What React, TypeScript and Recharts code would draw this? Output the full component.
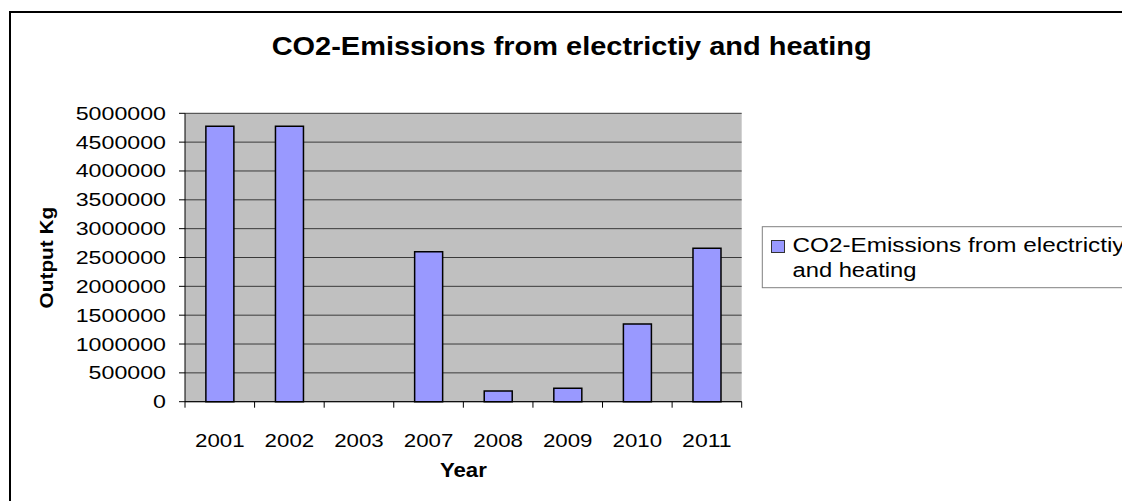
import React from 'react';
import { BarChart, Bar, XAxis, YAxis, CartesianGrid, Customized } from 'recharts';

const categories = ['2001', '2002', '2003', '2007', '2008', '2009', '2010', '2011'];
const emissions = [4775000, 4775000, 0, 2600000, 186000, 232000, 1347000, 2659000];
const yTicks = [0, 500000, 1000000, 1500000, 2000000, 2500000, 3000000, 3500000, 4000000, 4500000, 5000000];
const chartTitle = 'CO2-Emissions from electrictiy and heating';
const legendLines = ['CO2-Emissions from electrictiy', 'and heating'];
const xTitle = 'Year';
const yTitle = 'Output Kg';

const data = categories.map((c, i) => ({ year: c, value: emissions[i] }));

const FONT = '"Liberation Sans", Arial, Helvetica, sans-serif';
const W = 1122;
const H = 493;

const YTick = (props: any) => {
  const { x, y, payload } = props;
  const label = String(payload.value);
  return (
    <text x={x} y={y} dy="0.36em" textAnchor="end" fontFamily={FONT} fontSize={18} fill="#000"
      textLength={label.length * 12.9} lengthAdjust="spacingAndGlyphs">{label}</text>
  );
};

const XTick = (props: any) => {
  const { x, y, payload, index, width, visibleTicksCount } = props;
  const axisY = y - 6 - 2;
  const band = width && visibleTicksCount ? width / visibleTicksCount : 69.6;
  const half = band / 2;
  const label = String(payload.value);
  return (
    <g>
      <line x1={x - half} x2={x - half} y1={axisY} y2={axisY + 6} stroke="#000" />
      {index === visibleTicksCount - 1 && (
        <line x1={x + half} x2={x + half} y1={axisY} y2={axisY + 6} stroke="#000" />
      )}
      <text x={x} y={axisY + 45} textAnchor="middle" fontFamily={FONT} fontSize={18.5} fill="#000"
        textLength={label.length * 12.4} lengthAdjust="spacingAndGlyphs">{label}</text>
    </g>
  );
};

const Overlay = () => (
  <g>
    <text x={563.7} y={47} textAnchor="middle" fontFamily={FONT} fontWeight="bold" fontSize={25.5} fill="#000"
      textLength={600} lengthAdjust="spacingAndGlyphs">{chartTitle}</text>
    <text transform="translate(45,249.6) rotate(-90)" textAnchor="middle" fontFamily={FONT} fontWeight="bold"
      fontSize={19} fill="#000" textLength={101.7} lengthAdjust="spacingAndGlyphs">{yTitle}</text>
    <text x={455.4} y={468.7} textAnchor="middle" fontFamily={FONT} fontWeight="bold" fontSize={21} fill="#000"
      textLength={47} lengthAdjust="spacingAndGlyphs">{xTitle}</text>
    <rect x={754.3} y={218.7} width={366} height={61} fill="#fff" stroke="#808080" strokeWidth={1} />
    <rect x={763.5} y={232.5} width={13} height={12} fill="#9999ff" stroke="#333" strokeWidth={1} />
    <text x={784.5} y={243.7} fontFamily={FONT} fontSize={20} fill="#000"
      textLength={332} lengthAdjust="spacingAndGlyphs">{legendLines[0]}</text>
    <text x={784.5} y={269.3} fontFamily={FONT} fontSize={20} fill="#000"
      textLength={124} lengthAdjust="spacingAndGlyphs">{legendLines[1]}</text>
  </g>
);

export default function App() {
  return (
    <div style={{ position: 'relative', width: W, height: H, overflow: 'hidden', background: '#fff' }}>
      <div style={{ position: 'absolute', left: 1, top: 3, width: 2000, height: 2000, border: '2px solid #000', boxSizing: 'border-box' }} />
      <div style={{ position: 'absolute', left: 0, top: 0 }}>
        <BarChart width={W} height={H} data={data} barCategoryGap="30%"
          margin={{ top: 105.3, right: 388.3, left: 0, bottom: 39.3 }}>
          <CartesianGrid vertical={false} fill="#c0c0c0" fillOpacity={1} stroke="#3a3a3a" strokeWidth={1} />
          <XAxis dataKey="year" interval={0} height={60} tick={XTick} tickLine={false} tickSize={6} tickMargin={2}
            axisLine={{ stroke: '#000', strokeWidth: 1 }} />
          <YAxis domain={[0, 5000000]} ticks={yTicks} interval={0} width={177} tick={YTick} tickSize={6} tickMargin={13}
            tickLine={{ stroke: '#000' }} axisLine={{ stroke: '#000', strokeWidth: 1 }} />
          <YAxis yAxisId="r" orientation="right" domain={[0, 5000000]} width={0} tick={false} tickLine={false}
            axisLine={{ stroke: '#808080', strokeWidth: 1.5 }} />
          <Bar dataKey="value" fill="#9999ff" stroke="#000" strokeWidth={1.5} isAnimationActive={false} />
          <Customized component={Overlay} />
        </BarChart>
      </div>
    </div>
  );
}
